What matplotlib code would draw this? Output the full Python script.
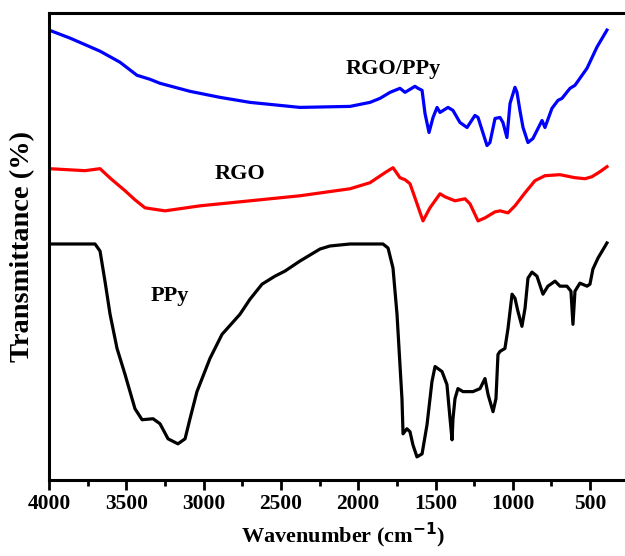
import numpy as np
import matplotlib
matplotlib.use("Agg")
import matplotlib.pyplot as plt
from matplotlib.ticker import MultipleLocator

plt.rcParams['font.family'] = ['Liberation Serif', 'DejaVu Serif']
plt.rcParams['font.weight'] = 'bold'
plt.rcParams['mathtext.fontset'] = 'custom'
plt.rcParams['mathtext.rm'] = 'Liberation Serif:bold'

# FTIR spectra, offset traces (arbitrary transmittance units)
rgo_ppy_wn = [4000, 3864, 3670, 3541, 3431, 3347, 3282, 3088, 2894, 2700, 2506, 2377,
              2053, 1924, 1859, 1794, 1730, 1697, 1633, 1613, 1587, 1568, 1542, 1516,
              1490, 1471, 1419, 1387, 1342, 1296, 1245, 1225, 1167, 1148, 1115, 1083,
              1064, 1038, 1018, 986, 973, 954, 934, 902, 870, 811, 792, 747, 708, 682,
              630, 598, 520, 456, 391]
rgo_ppy_t = [448, 440, 427, 416, 403, 399, 395, 387, 381, 376, 373, 371,
             372, 376, 380, 386, 390, 386, 392, 390, 388, 365, 346, 361,
             371, 366, 371, 368, 356, 351, 363, 361, 333, 336, 360, 361,
             356, 341, 375, 391, 386, 368, 351, 336, 340, 358, 351, 370, 378, 380,
             390, 393, 410, 431, 448]

rgo_wn = [4000, 3767, 3670, 3600, 3508, 3444, 3379, 3250, 3023, 2700, 2377, 2053,
          1924, 1827, 1775, 1730, 1697, 1665, 1633, 1581, 1536, 1471, 1439, 1374,
          1309, 1277, 1225, 1180, 1115, 1083, 1031, 986, 921, 857, 792, 695, 598,
          533, 488, 436, 391]
rgo_t = [310, 308, 310, 300, 288, 279, 271, 268, 273, 278, 283, 290,
         296, 306, 311, 301, 299, 295, 281, 258, 271, 285, 282, 278,
         280, 275, 258, 261, 267, 268, 266, 273, 286, 298, 303, 304, 301,
         300, 302, 307, 312]

ppy_wn = [4000, 3702, 3670, 3638, 3605, 3560, 3508, 3444, 3398, 3327, 3282, 3230,
          3166, 3120, 3088, 3043, 2959, 2881, 2765, 2700, 2622, 2538, 2474, 2377,
          2247, 2183, 2053, 1840, 1807, 1775, 1749, 1730, 1717, 1710, 1685, 1665,
          1646, 1620, 1587, 1555, 1523, 1503, 1458, 1426, 1406, 1393, 1387, 1374,
          1355, 1322, 1258, 1212, 1180, 1160, 1128, 1109, 1096, 1083, 1051, 1031,
          1005, 986, 967, 941, 921, 902, 876, 844, 805, 773, 727, 695, 650, 624,
          611, 598, 566, 520, 501, 482, 449, 391]
ppy_t = [235, 235, 228, 198, 165, 131, 105, 71, 60, 61, 56, 41,
         36, 41, 61, 88, 121, 145, 165, 180, 195, 203, 208, 218,
         230, 233, 235, 235, 231, 211, 165, 115, 81, 46, 51, 48,
         35, 23, 26, 55, 98, 113, 108, 95, 61, 40, 61, 81,
         91, 88, 88, 91, 101, 85, 68, 81, 125, 128, 131, 151,
         185, 181, 168, 153, 171, 201, 207, 203, 185, 193, 198, 193, 193, 188,
         155, 188, 196, 193, 195, 210, 221, 236]

fig = plt.figure(figsize=(6.25, 5.56), dpi=100)
ax = fig.add_axes([49 / 625, 76 / 556, 587.5 / 625, 467 / 556])

ax.plot(rgo_ppy_wn, rgo_ppy_t, color='#0000ff', lw=2.3)
ax.plot(rgo_wn, rgo_t, color='#ff0000', lw=2.3)
ax.plot(ppy_wn, ppy_t, color='black', lw=2.3)

ax.text(1775, 409, 'RGO/PPy', fontsize=16, fontweight='bold', ha='center', va='center')
ax.text(2765, 305, 'RGO', fontsize=16, fontweight='bold', ha='center', va='center')
ax.text(3217, 183, 'PPy', fontsize=16, fontweight='bold', ha='center', va='center')

ax.set_xlim(4000, 200)
ax.set_ylim(0, 465)
ax.xaxis.set_major_locator(MultipleLocator(500))
ax.xaxis.set_minor_locator(MultipleLocator(250))
ax.set_yticks([])
ax.tick_params(axis='x', which='major', direction='out', length=7, width=2,
               labelsize=15.5, pad=3)
ax.tick_params(axis='x', which='minor', direction='out', length=4, width=2)
for lab in ax.get_xticklabels():
    lab.set_fontweight('bold')
for sp in ax.spines.values():
    sp.set_linewidth(2.2)

ax.set_xlabel(r'Wavenumber (cm$^{\mathbf{-1}}$)', fontsize=16, fontweight='bold', labelpad=5)
ax.set_ylabel('Transmittance (%)', fontsize=20.5, fontweight='bold', labelpad=10)

fig.savefig('out.png', dpi=100)
